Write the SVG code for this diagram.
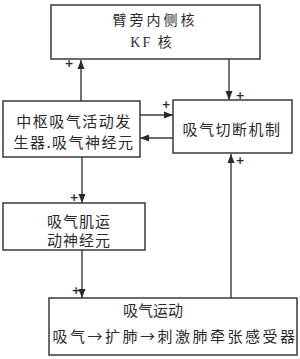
<svg xmlns="http://www.w3.org/2000/svg" width="300" height="359" viewBox="0 0 300 359">
<defs>
<style>
.box{fill:none;stroke:#3a3a3a;stroke-width:1.5}
.t{font-family:"Noto Sans CJK SC","Noto Sans",sans-serif;font-size:15px;fill:#2a2a2a;text-anchor:middle}
.p{font-family:"DejaVu Sans",sans-serif;font-size:11px;font-weight:bold;fill:#2a2a2a;text-anchor:middle}
.c{stroke:#3a3a3a;stroke-width:1.4;fill:none;marker-end:url(#ah)}
</style>
<marker id="ah" markerUnits="userSpaceOnUse" markerWidth="10" markerHeight="10" viewBox="0 0 10 10" refX="9" refY="5" orient="auto">
<path d="M0,1.5 L9,5 L0,8.5 Z" fill="#2a2a2a"/>
</marker>
</defs>
<rect width="300" height="359" fill="#ffffff"/>
<g id="connectors">
<line class="c" x1="81" y1="101" x2="81" y2="60"/>
<line class="c" x1="229" y1="59" x2="229" y2="100"/>
<line class="c" x1="140" y1="115" x2="173" y2="115"/>
<line class="c" x1="173" y1="138" x2="140" y2="138"/>
<line class="c" x1="82" y1="157" x2="82" y2="203"/>
<line class="c" x1="82" y1="250" x2="82" y2="298"/>
<line class="c" x1="231" y1="298" x2="231" y2="154"/>
<text class="p" x="69" y="67">+</text>
<text class="p" x="240" y="99">+</text>
<text class="p" x="166" y="108">+</text>
<text class="p" x="240" y="164">+</text>
<text class="p" x="74" y="201">+</text>
<text class="p" x="76" y="294">+</text>
</g>
<g id="kf">
<rect class="box" x="51" y="5" width="209" height="54"/>
<text class="t" x="155" y="25" style="font-size:14px;letter-spacing:3px">臂旁内侧核</text>
<text x="152" y="47" style="font-family:'Liberation Serif','Noto Sans CJK SC',serif;font-size:14px;fill:#2a2a2a;text-anchor:middle;letter-spacing:2px">KF <tspan style="font-family:'Noto Sans CJK SC',sans-serif">核</tspan></text>
</g>
<g id="generator">
<rect class="box" x="3" y="101" width="137" height="56"/>
<text class="t" x="74" y="127" style="letter-spacing:1.5px">中枢吸气活动发</text>
<text class="t" x="74" y="148" style="letter-spacing:1.5px">生器.吸气神经元</text>
</g>
<g id="cutoff">
<rect class="box" x="173" y="100" width="119" height="53"/>
<text class="t" x="232" y="135" style="letter-spacing:1.5px">吸气切断机制</text>
</g>
<g id="motor">
<rect class="box" x="3" y="203" width="142" height="47"/>
<text class="t" x="79" y="227" style="letter-spacing:1px">吸气肌运</text>
<text class="t" x="79" y="246" style="letter-spacing:1px">动神经元</text>
</g>
<g id="movement">
<rect class="box" x="49" y="298" width="248" height="57"/>
<text class="t" x="153" y="316">吸气运动</text>
<text class="t" x="175" y="342" style="letter-spacing:2.5px">吸气→扩肺→刺激肺牵张感受器</text>
</g>
</svg>
